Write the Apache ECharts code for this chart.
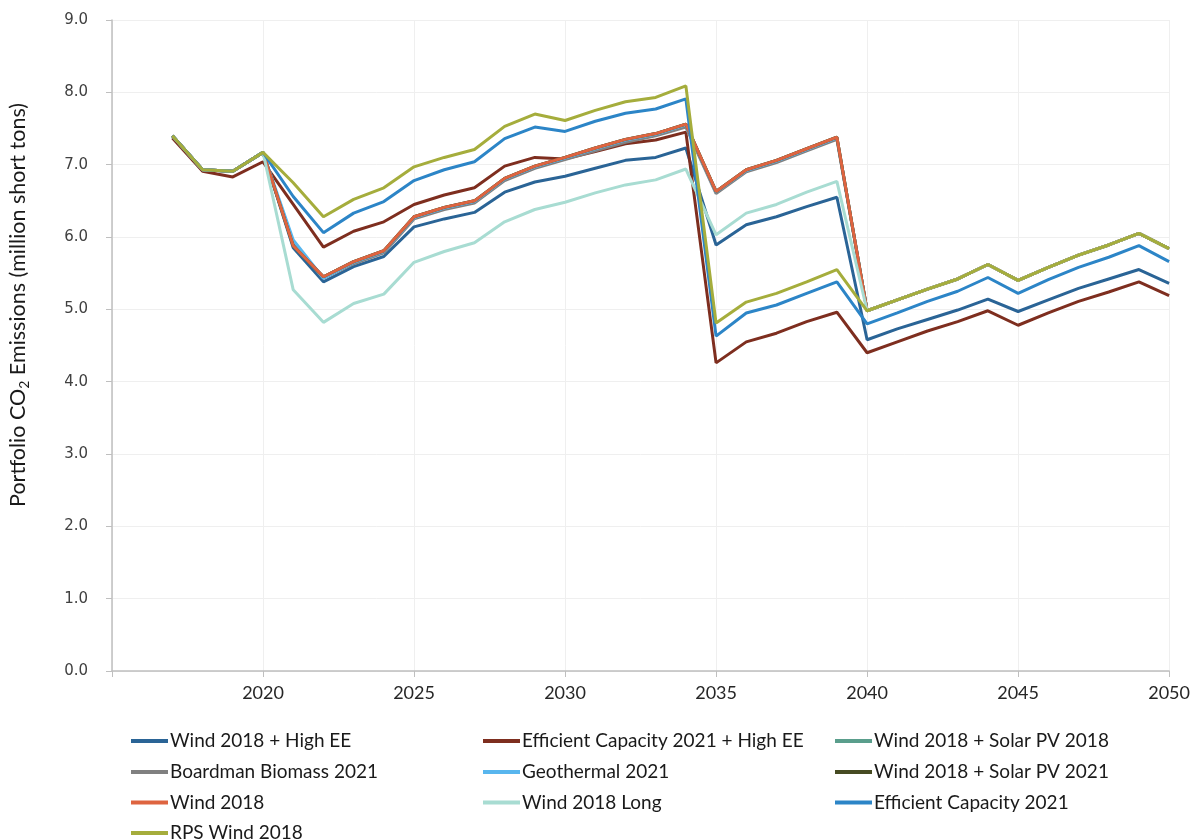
<!DOCTYPE html>
<html>
<head>
<meta charset="utf-8">
<title>Portfolio CO2 Emissions</title>
<script src="https://cdn.jsdelivr.net/npm/echarts@6/dist/echarts.min.js"></script>
<style>
  html, body { margin: 0; padding: 0; background: #ffffff; }
  #chart { width: 1193px; height: 840px; }
</style>
</head>
<body>
<div id="chart"></div>
<script>
// Study years
const years = [2017, 2018, 2019, 2020, 2021, 2022, 2023, 2024, 2025, 2026, 2027, 2028,
  2029, 2030, 2031, 2032, 2033, 2034, 2035, 2036, 2037, 2038, 2039, 2040, 2041, 2042,
  2043, 2044, 2045, 2046, 2047, 2048, 2049, 2050];

// Portfolio CO2 emissions, million short tons
const windHighEE = [7.40, 6.93, 6.91, 7.17, 5.85, 5.38, 5.59, 5.73, 6.14, 6.25, 6.34, 6.62,
  6.76, 6.84, 6.95, 7.06, 7.10, 7.23, 5.89, 6.17, 6.28, 6.42, 6.55, 4.58, 4.73, 4.86,
  4.99, 5.14, 4.97, 5.13, 5.29, 5.42, 5.55, 5.36];
const effCapHighEE = [7.37, 6.91, 6.83, 7.04, 6.45, 5.86, 6.08, 6.21, 6.45, 6.58, 6.68, 6.98,
  7.10, 7.08, 7.18, 7.29, 7.34, 7.45, 4.26, 4.55, 4.67, 4.83, 4.96, 4.40, 4.55, 4.70,
  4.83, 4.98, 4.78, 4.95, 5.11, 5.24, 5.38, 5.19];
const windSolar2018 = [7.40, 6.93, 6.91, 7.17, 5.88, 5.45, 5.66, 5.81, 6.28, 6.41, 6.50, 6.81,
  6.98, 7.10, 7.23, 7.35, 7.43, 7.56, 6.63, 6.93, 7.06, 7.22, 7.38, 4.98, 5.13, 5.28,
  5.42, 5.62, 5.40, 5.58, 5.75, 5.89, 6.05, 5.84];
const boardmanBiomass = [7.40, 6.93, 6.91, 7.17, 5.90, 5.43, 5.63, 5.78, 6.25, 6.38, 6.47, 6.78,
  6.95, 7.07, 7.19, 7.31, 7.40, 7.52, 6.60, 6.90, 7.03, 7.19, 7.35, 4.98, 5.13, 5.28,
  5.42, 5.62, 5.40, 5.58, 5.75, 5.89, 6.05, 5.84];
const geothermal = [7.40, 6.93, 6.91, 7.17, 5.96, 5.43, 5.65, 5.80, 6.27, 6.40, 6.49, 6.80,
  6.97, 7.09, 7.22, 7.34, 7.42, 7.55, 6.62, 6.92, 7.05, 7.21, 7.37, 4.98, 5.13, 5.28,
  5.42, 5.62, 5.40, 5.58, 5.75, 5.89, 6.05, 5.84];
const windSolar2021 = [7.40, 6.93, 6.91, 7.17, 5.88, 5.45, 5.66, 5.81, 6.28, 6.41, 6.50, 6.81,
  6.98, 7.10, 7.23, 7.35, 7.43, 7.56, 6.63, 6.93, 7.06, 7.22, 7.38, 4.98, 5.13, 5.28,
  5.42, 5.62, 5.40, 5.58, 5.75, 5.89, 6.05, 5.84];
const wind2018 = [7.40, 6.93, 6.91, 7.17, 5.88, 5.45, 5.66, 5.81, 6.28, 6.41, 6.50, 6.81,
  6.98, 7.10, 7.23, 7.35, 7.43, 7.56, 6.63, 6.93, 7.06, 7.22, 7.38, 4.98, 5.13, 5.28,
  5.42, 5.62, 5.40, 5.58, 5.75, 5.89, 6.05, 5.84];
const wind2018Long = [7.40, 6.93, 6.91, 7.17, 5.27, 4.82, 5.08, 5.21, 5.65, 5.80, 5.92, 6.21,
  6.38, 6.48, 6.61, 6.72, 6.79, 6.94, 6.03, 6.33, 6.45, 6.62, 6.77, 4.98, 5.13, 5.28,
  5.42, 5.62, 5.40, 5.58, 5.75, 5.89, 6.05, 5.84];
const effCap2021 = [7.40, 6.93, 6.91, 7.17, 6.56, 6.06, 6.33, 6.49, 6.78, 6.93, 7.04, 7.36,
  7.52, 7.46, 7.60, 7.71, 7.77, 7.91, 4.63, 4.95, 5.06, 5.22, 5.38, 4.80, 4.95, 5.11,
  5.25, 5.44, 5.22, 5.41, 5.58, 5.72, 5.88, 5.66];
const rpsWind2018 = [7.40, 6.93, 6.91, 7.17, 6.75, 6.28, 6.52, 6.68, 6.97, 7.10, 7.21, 7.53,
  7.70, 7.61, 7.75, 7.87, 7.93, 8.09, 4.81, 5.10, 5.22, 5.38, 5.55, 4.98, 5.13, 5.28,
  5.42, 5.62, 5.40, 5.58, 5.75, 5.89, 6.05, 5.84];

// Series in drawing order (later series sit on top); legend runs row by row in this order
const portfolios = [
  { name: 'Wind 2018 + High EE', values: windHighEE, color: '#2A6496' },
  { name: 'Efficient Capacity 2021 + High EE', values: effCapHighEE, color: '#7E2E1F' },
  { name: 'Wind 2018 + Solar PV 2018', values: windSolar2018, color: '#5A9E8C' },
  { name: 'Boardman Biomass 2021', values: boardmanBiomass, color: '#808080' },
  { name: 'Geothermal 2021', values: geothermal, color: '#58B6EE' },
  { name: 'Wind 2018 + Solar PV 2021', values: windSolar2021, color: '#464B22' },
  { name: 'Wind 2018', values: wind2018, color: '#DE6440' },
  { name: 'Wind 2018 Long', values: wind2018Long, color: '#A8DCD2' },
  { name: 'Efficient Capacity 2021', values: effCap2021, color: '#2C85C7' },
  { name: 'RPS Wind 2018', values: rpsWind2018, color: '#A5AD3C' }
];

// Legend grid: three columns, rows about 30.7px apart
const legendColLeft = [131, 483, 835];
const legendRowCenter = [741, 772, 802.5, 833];
const legendLineHeight = 20;

const labelFont = 'Lato, "Open Sans", sans-serif';

const chart = echarts.init(document.getElementById('chart'), null, { renderer: 'canvas' });

const legends = portfolios.map((p, i) => ({
  data: [p.name],
  orient: 'horizontal',
  left: legendColLeft[i % 3],
  top: legendRowCenter[Math.floor(i / 3)] - legendLineHeight / 2,
  padding: 0,
  icon: 'rect',
  itemWidth: 37,
  itemHeight: 4,
  selectedMode: false,
  textStyle: {
    fontFamily: labelFont, fontSize: 19, lineHeight: legendLineHeight,
    color: '#1a1a1a', padding: [0, 0, 0, -3]
  }
}));

const option = {
  backgroundColor: '#ffffff',
  animation: false,
  grid: { left: 112, right: 23, top: 20, bottom: 169 },
  legend: legends,
  xAxis: {
    type: 'value',
    min: 2015,
    max: 2050,
    interval: 5,
    axisLine: { show: true, lineStyle: { color: '#bfbfbf', width: 1.5 } },
    axisTick: { show: true, length: 6, lineStyle: { color: '#bfbfbf' } },
    axisLabel: {
      margin: 13,
      fontFamily: labelFont,
      fontSize: 18,
      color: '#262626',
      formatter: v => (v === 2015 ? '' : String(v))
    },
    splitLine: { show: true, lineStyle: { color: '#efefef', width: 1 } }
  },
  yAxis: {
    type: 'value',
    min: 0,
    max: 9,
    interval: 1,
    axisLine: { show: true, lineStyle: { color: '#bfbfbf', width: 1.5 } },
    axisTick: { show: true, length: 6, lineStyle: { color: '#bfbfbf' } },
    axisLabel: {
      margin: 24,
      fontFamily: '"DejaVu Sans", Verdana, sans-serif',
      fontSize: 15,
      color: '#404040',
      formatter: v => v.toFixed(1)
    },
    splitLine: { show: true, lineStyle: { color: '#efefef', width: 1 } }
  },
  graphic: [{
    type: 'text',
    x: 18,
    y: 305,
    rotation: Math.PI / 2,
    style: {
      text: '{a|Portfolio CO}{s|2}{a| Emissions (million short tons)}',
      align: 'center',
      verticalAlign: 'middle',
      fill: '#1a1a1a',
      rich: {
        a: { fontFamily: labelFont, fontSize: 21.5, lineHeight: 26, fill: '#1a1a1a' },
        s: { fontFamily: labelFont, fontSize: 14, lineHeight: 26, verticalAlign: 'bottom', padding: [9, 0, 0, 0], fill: '#1a1a1a' }
      }
    }
  }],
  series: portfolios.map(p => ({
    name: p.name,
    type: 'line',
    data: years.map((y, i) => [y, p.values[i]]),
    symbol: 'none',
    smooth: false,
    color: p.color,
    lineStyle: { width: 3, color: p.color },
    emphasis: { disabled: true }
  }))
};

chart.setOption(option);
</script>
</body>
</html>
